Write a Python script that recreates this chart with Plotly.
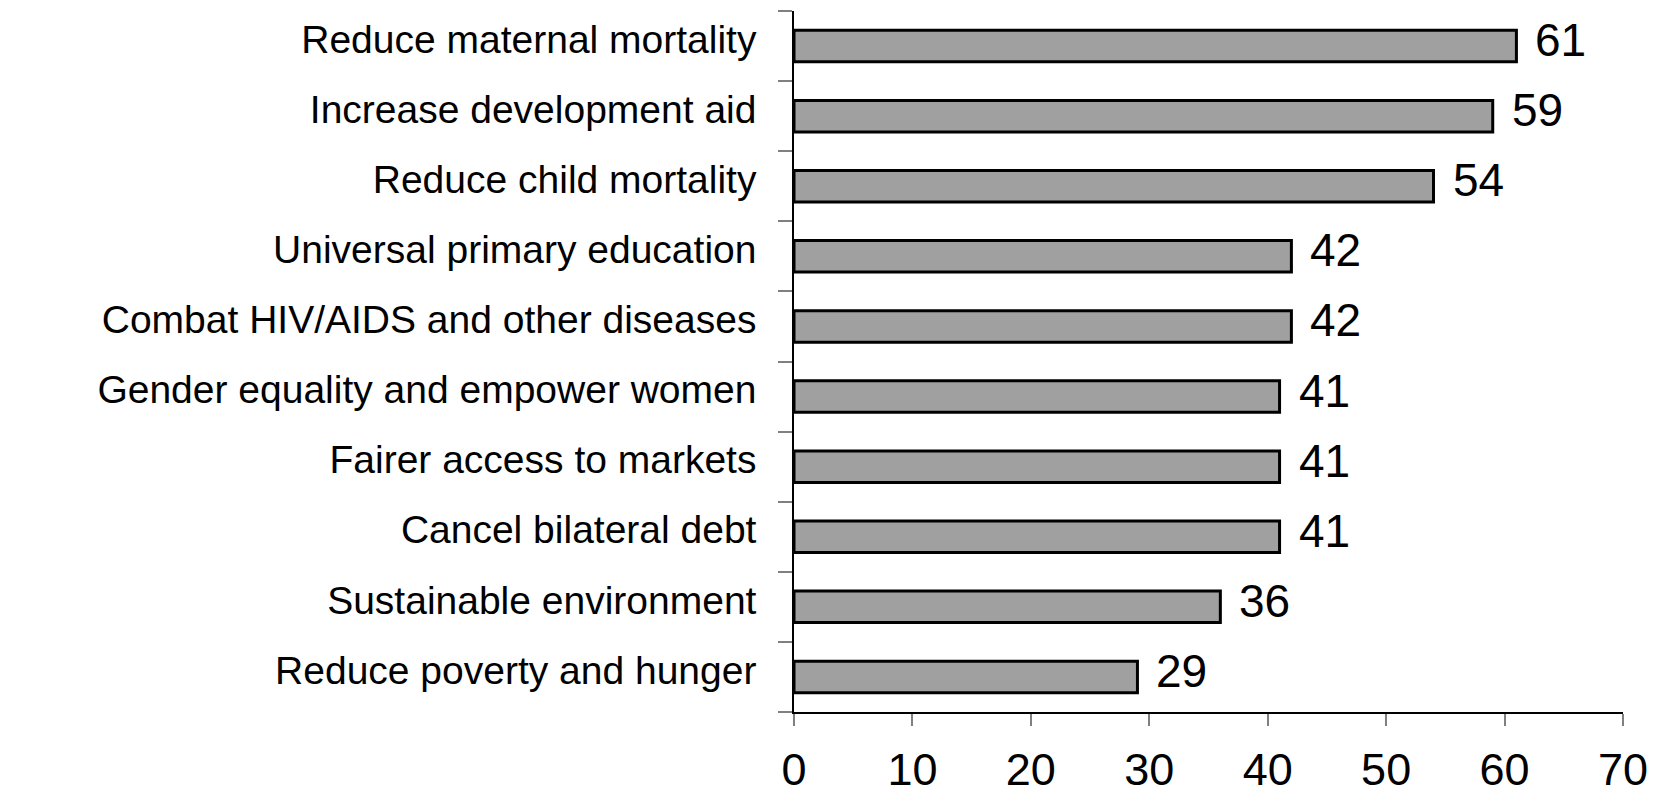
import plotly.graph_objects as go

categories = [
    "Reduce maternal mortality",
    "Increase development aid",
    "Reduce child mortality",
    "Universal primary education",
    "Combat HIV/AIDS and other diseases",
    "Gender equality and empower women",
    "Fairer access to markets",
    "Cancel bilateral debt",
    "Sustainable environment",
    "Reduce poverty and hunger",
]
values = [61, 59, 54, 42, 42, 41, 41, 41, 36, 29]
x_ticks = [0, 10, 20, 30, 40, 50, 60, 70]

FONT = "Liberation Sans, Arial"

fig = go.Figure(
    go.Bar(
        y=categories,
        x=values,
        orientation="h",
        width=0.45,
        marker=dict(color="#a0a0a0", line=dict(color="black", width=3)),
        hoverinfo="x+y",
    )
)

# value labels to the right of each bar
for cat, val in zip(categories, values):
    fig.add_annotation(
        x=val,
        y=cat,
        xref="x",
        yref="y",
        text=str(val),
        showarrow=False,
        xanchor="left",
        yanchor="middle",
        xshift=17,
        yshift=6,
        font=dict(family=FONT, size=46, color="black"),
    )

# page body has an 8px default margin, so the figure is drawn 8px in
fig.update_layout(
    width=1655,
    height=787,
    margin=dict(l=786, r=40, t=3, b=83, autoexpand=False),
    plot_bgcolor="white",
    paper_bgcolor="white",
    showlegend=False,
    font=dict(family=FONT, color="black"),
)

fig.update_xaxes(
    range=[0, 70],
    tickvals=x_ticks,
    ticktext=[str(v) for v in x_ticks],
    showgrid=False,
    zeroline=False,
    showline=True,
    linecolor="black",
    linewidth=1.5,
    ticks="outside",
    ticklen=12,
    tickcolor="#808080",
    tickwidth=1.5,
    tickfont=dict(size=45, color="black"),
    ticklabelstandoff=5,
    automargin=False,
)

fig.update_yaxes(
    categoryorder="array",
    categoryarray=categories[::-1],
    showgrid=False,
    zeroline=False,
    showline=True,
    linecolor="black",
    linewidth=1.5,
    ticks="outside",
    tickson="boundaries",
    ticklen=14,
    tickcolor="#808080",
    tickwidth=1.5,
    tickfont=dict(size=39, color="black"),
    ticklabelstandoff=28,
    ticklabelshift=-7,
    automargin=False,
)

fig.write_html("out.html")
